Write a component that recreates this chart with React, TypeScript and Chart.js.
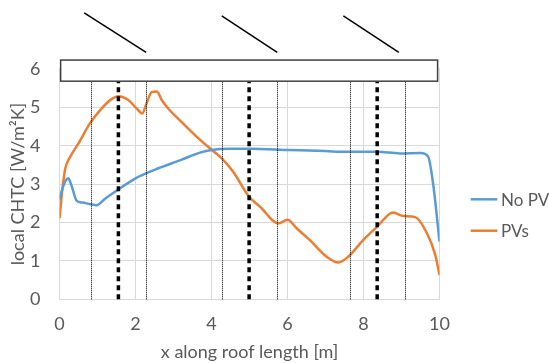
import React, { useEffect, useRef } from "react";
import { Chart, registerables } from "chart.js";

Chart.register(...registerables);

// ---- data ----
const noPvX = [0, 0.1, 0.23, 0.32, 0.45, 0.6, 0.8, 0.98, 1.2, 1.55, 2, 2.5, 3.2, 3.7, 4, 4.5, 5, 6, 7, 7.5, 8.35, 8.96, 9.5, 9.7, 9.84, 10];
const noPvY = [2.6, 2.95, 3.15, 2.95, 2.57, 2.52, 2.48, 2.45, 2.62, 2.86, 3.15, 3.37, 3.63, 3.82, 3.89, 3.92, 3.92, 3.89, 3.86, 3.84, 3.84, 3.8, 3.81, 3.72, 2.95, 1.5];

const pvX = [0, 0.08, 0.15, 0.28, 0.5, 0.8, 1.11, 1.35, 1.55, 1.81, 2.03, 2.18, 2.29, 2.43, 2.56, 2.69, 2.86, 3.21, 3.7, 4, 4.27, 4.57, 4.99, 5.28, 5.76, 6, 6.24, 6.59, 7.03, 7.34, 7.6, 7.99, 8.35, 8.78, 9.05, 9.36, 9.67, 9.89, 10];
const pvY = [2.11, 2.9, 3.4, 3.71, 4.06, 4.58, 4.97, 5.2, 5.29, 5.19, 4.97, 4.84, 5.1, 5.4, 5.41, 5.19, 4.97, 4.62, 4.15, 3.9, 3.67, 3.32, 2.67, 2.41, 1.98, 2.07, 1.85, 1.54, 1.11, 0.96, 1.11, 1.54, 1.88, 2.26, 2.17, 2.14, 1.72, 1.15, 0.63];

const seriesNames = ["No PV", "PVs"];
const xTitle = "x along roof length [m]";
const yTitle = "local CHTC [W/m\u00B2K]";

// roof sketch (in data units)
const roofX = [0.03, 9.95];
const roofY = [5.68, 6.23];
const panelStartX = [0.65, 4.27, 7.47];
const panelEndX = [2.28, 5.73, 8.93];
const panelTopY = [7.46, 7.38, 7.38];
const panelBottomY = [6.43, 6.43, 6.43];
const dottedX = [0.82, 2.27, 4.28, 5.73, 7.64, 9.08];
const dashedX = [1.55, 4.99, 8.36];

const BLUE = "#5b9bd5";
const ORANGE = "#ed7d31";
const TEXT = "#595959";
const GRID = "#d9d9d9";
const FONT = "Lato";

const sketchPlugin = {
  id: "sketch",
  afterDatasetsDraw(chart: any) {
    const { ctx, scales } = chart;
    const xs = scales.x;
    const ys = scales.y;
    const px = (v: number) => xs.getPixelForValue(v);
    const py = (v: number) => ys.getPixelForValue(v);
    ctx.save();
    // vertical dotted lines
    ctx.strokeStyle = "#000";
    ctx.lineWidth = 1;
    ctx.setLineDash([1, 1]);
    dottedX.forEach((v) => {
      const x = Math.round(px(v)) + 0.5;
      ctx.beginPath();
      ctx.moveTo(x, py(0));
      ctx.lineTo(x, py(roofY[0]));
      ctx.stroke();
    });
    // thick dashed lines
    ctx.lineWidth = 3.5;
    ctx.setLineDash([5, 4]);
    dashedX.forEach((v) => {
      const x = px(v);
      ctx.beginPath();
      ctx.moveTo(x, py(0));
      ctx.lineTo(x, py(roofY[0]));
      ctx.stroke();
    });
    ctx.setLineDash([]);
    // roof rectangle
    const rx = px(roofX[0]);
    const ry = py(roofY[1]);
    const rw = px(roofX[1]) - rx;
    const rh = py(roofY[0]) - ry;
    ctx.fillStyle = "#fff";
    ctx.fillRect(rx, ry, rw, rh);
    ctx.strokeStyle = "#404040";
    ctx.lineWidth = 1.5;
    ctx.strokeRect(rx, ry, rw, rh);
    // panels
    ctx.strokeStyle = "#000";
    ctx.lineWidth = 1.5;
    panelStartX.forEach((v, i) => {
      ctx.beginPath();
      ctx.moveTo(px(v), py(panelTopY[i]));
      ctx.lineTo(px(panelEndX[i]), py(panelBottomY[i]));
      ctx.stroke();
    });
    // legend
    const legendY = [199.3, 230.7];
    const colors = [BLUE, ORANGE];
    ctx.font = `17px ${FONT}`;
    ctx.textBaseline = "middle";
    ctx.textAlign = "left";
    seriesNames.forEach((name, i) => {
      ctx.strokeStyle = colors[i];
      ctx.lineWidth = 2.5;
      ctx.beginPath();
      ctx.moveTo(470.7, legendY[i]);
      ctx.lineTo(497.3, legendY[i]);
      ctx.stroke();
      ctx.fillStyle = TEXT;
      ctx.fillText(name, 501, legendY[i] + 1);
    });
    ctx.restore();
  },
};

export default function App() {
  const ref = useRef<HTMLCanvasElement>(null);
  useEffect(() => {
    if (!ref.current) return;
    const chart = new Chart(ref.current, {
      type: "scatter",
      data: {
        datasets: [
          {
            label: seriesNames[0],
            data: noPvX.map((x, i) => ({ x, y: noPvY[i] })),
            borderColor: BLUE,
            backgroundColor: BLUE,
            showLine: true,
            borderWidth: 2.5,
            pointRadius: 0,
            cubicInterpolationMode: "monotone",
          },
          {
            label: seriesNames[1],
            data: pvX.map((x, i) => ({ x, y: pvY[i] })),
            borderColor: ORANGE,
            backgroundColor: ORANGE,
            showLine: true,
            borderWidth: 2.5,
            pointRadius: 0,
            cubicInterpolationMode: "monotone",
          },
        ],
      },
      options: {
        animation: false,
        responsive: false,
        devicePixelRatio: 1,
        layout: { padding: { left: 0, top: 68.9, right: 109.5, bottom: 0 } },
        plugins: { legend: { display: false }, tooltip: { enabled: false } },
        scales: {
          x: {
            type: "linear",
            min: 0,
            max: 10,
            ticks: { stepSize: 2, color: TEXT, font: { family: FONT, size: 18 }, padding: 14 },
            grid: { color: GRID, drawTicks: false },
            border: { color: GRID },
            title: { display: true, text: xTitle, color: TEXT, font: { family: FONT, size: 18 }, padding: 0 },
            afterFit: (s: any) => { s.height = 363 - 299.3; },
          },
          y: {
            min: 0,
            max: 6,
            ticks: { stepSize: 1, color: TEXT, font: { family: FONT, size: 18 }, padding: 19 },
            grid: { color: GRID, drawTicks: false },
            border: { color: GRID },
            title: { display: true, text: yTitle, color: TEXT, font: { family: FONT, size: 18 }, padding: { top: 7, bottom: 0 } },
            afterFit: (s: any) => { s.width = 59.5; },
          },
        },
      },
      plugins: [sketchPlugin],
    });
    return () => chart.destroy();
  }, []);
  return (
    <div style={{ position: "absolute", left: 0, top: 0, width: 549, height: 363, background: "#fff" }}>
      <canvas ref={ref} width={549} height={363} style={{ display: "block" }} />
    </div>
  );
}
